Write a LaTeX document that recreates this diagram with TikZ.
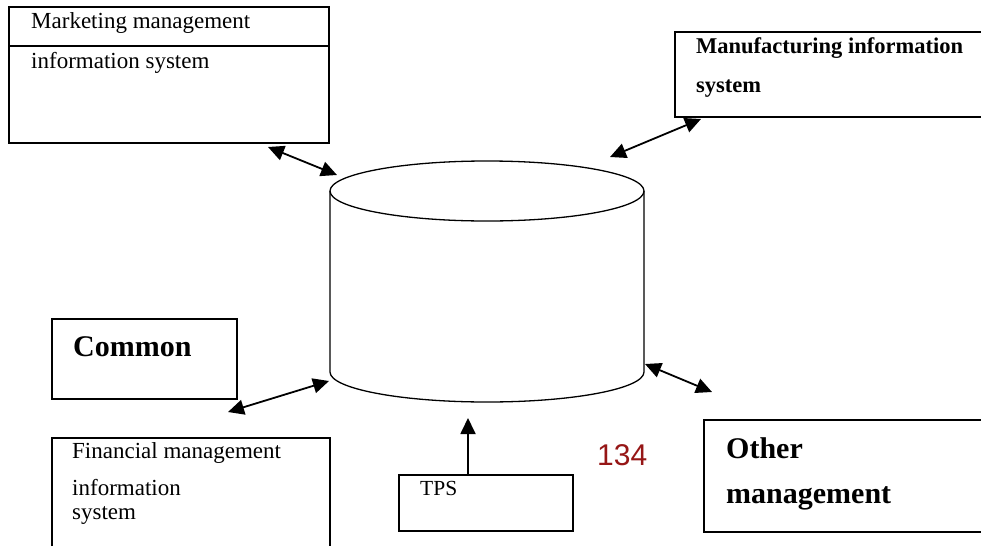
\documentclass[tikz,border=0pt]{standalone}
\usepackage{fontspec}
\setmainfont{Liberation Serif}
\newfontfamily\numfont{Liberation Sans}
\usepackage{xcolor}
\usetikzlibrary{arrows.meta}
\definecolor{pagered}{RGB}{150,22,22}

\begin{document}
\begin{tikzpicture}[x=1pt,y=-1pt,
		frame/.style={black, line width=1.6pt},
		thinframe/.style={black, line width=1.2pt},
		cyl/.style={black, line width=1.3pt},
		txt/.style={anchor=base west, inner sep=0pt, font=\fontsize{23}{26}\selectfont},
		boldtxt/.style={anchor=base west, inner sep=0pt, font=\fontsize{22.5}{26}\selectfont\bfseries},
		bigtxt/.style={anchor=base west, inner sep=0pt, font=\fontsize{30}{34}\selectfont\bfseries},
		link/.style={{Triangle[length=16pt,width=15pt]}-{Triangle[length=16pt,width=15pt]}, line width=1.8pt},
		feed/.style={-{Triangle[length=16pt,width=15pt]}, line width=1.8pt}]
				\useasboundingbox (0,0) rectangle (981,546);
				% database
				\coordinate (DB) at (487,191);
				\draw[cyl] (DB) ellipse [x radius=157, y radius=30];
				\draw[cyl] (330,191) -- (330,372) arc[start angle=180, end angle=0, x radius=157, y radius=30] -- (644,191);
				% marketing
				\draw[frame] (9,7) rectangle (329,143);
				\draw[frame] (9,46) -- (329,46);
				\node (A) at (31,28) [txt] {Marketing management};
				\node (B) at (31,68) [txt] {information system};
				% manufacturing
				\draw[frame] (981,32) -- (675,32) -- (675,117) -- (981,117);
				\node (C) at (696,53) [boldtxt] {Manufacturing information};
				\node (D) at (696,92) [boldtxt] {system};
				% common
				\draw[thinframe] (52,319) rectangle (237,399);
				\node (E) at (73,356) [bigtxt] {Common};
				% financial
				\draw[frame] (52,546) -- (52,438) -- (330,438) -- (330,546);
				\node (F) at (72,458) [txt] {Financial management};
				\node (G) at (72,495) [txt] {information};
				\node (H) at (72,519) [txt] {system};
				% tps
				\draw[thinframe] (399,475) rectangle (573,531);
				\draw[frame] (399,475) -- (573,475);
				\node (I) at (420,495) [txt, font=\fontsize{21.5}{24}\selectfont] {TPS};
				% page number
				\node (J) at (597,465) [anchor=base west, inner sep=0pt, text=pagered, font=\numfont\fontsize{30}{34}\selectfont] {134};
				% other
				\draw[frame] (981,420) -- (704,420) -- (704,532) -- (981,532);
				\node (K) at (726,458) [bigtxt] {Other};
				\node (L) at (726,503) [bigtxt] {management};
				% arrows
				\coordinate (mk) at (268,147);
				\coordinate (dbmk) at (337,175);
				\coordinate (mf) at (701,119);
				\coordinate (dbmf) at (610,157);
				\coordinate (cf) at (228,412);
				\coordinate (dbcf) at (329,381);
				\coordinate (ot) at (712,392);
				\coordinate (dbot) at (645,364);
				\coordinate (tp) at (468,474);
				\coordinate (dbtp) at (468,418);
				\draw[link] (mk) -- (dbmk);
				\draw[link] (mf) -- (dbmf);
				\draw[link] (cf) -- (dbcf);
				\draw[link] (ot) -- (dbot);
				\draw[feed] (tp) -- (dbtp);
			\end{tikzpicture}
\end{document}
